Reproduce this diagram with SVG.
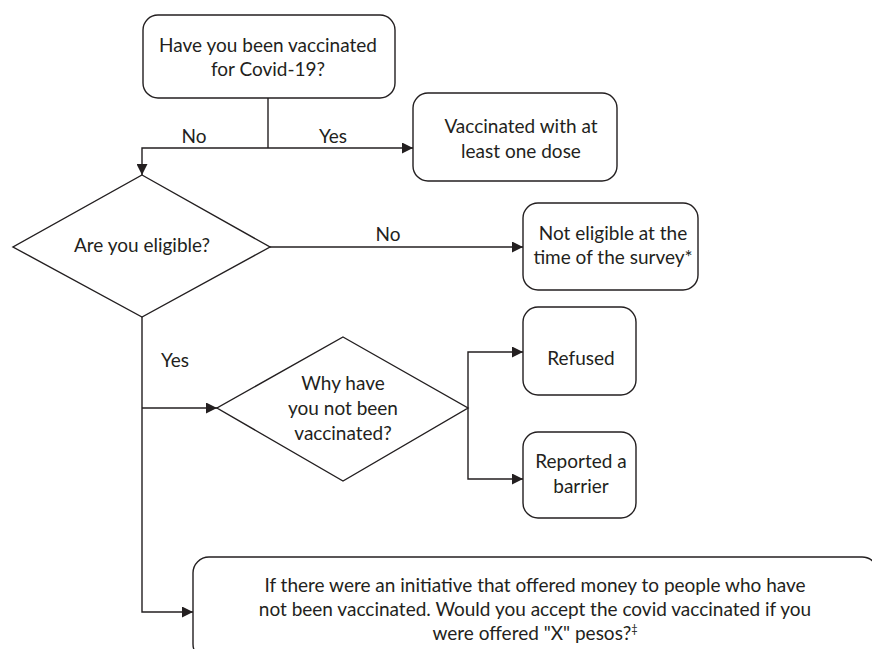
<svg xmlns="http://www.w3.org/2000/svg" width="872" height="649" viewBox="0 0 872 649">
<defs>
<style>
.box{fill:#fff;stroke:#231f20;stroke-width:1.4}
.t{font-family:Lato,"Liberation Sans",sans-serif;font-size:19px;fill:#231f20;text-anchor:middle}
.lbl{font-family:Lato,"Liberation Sans",sans-serif;font-size:19px;fill:#231f20;text-anchor:middle}
.c{fill:none;stroke:#231f20;stroke-width:1.4}
</style>
<marker id="ah" markerUnits="userSpaceOnUse" markerWidth="11" markerHeight="11" viewBox="0 0 11 11" refX="11" refY="5.5" orient="auto">
<path d="M0,0 L11,5.5 L0,11 Z" fill="#231f20"/>
</marker>
</defs>
<rect width="872" height="649" fill="#fff"/>
<g id="connectors">
<path class="c" d="M268,98 V148"/>
<path class="c" d="M268,148 H413" marker-end="url(#ah)"/>
<path class="c" d="M268,148 H142 V175" marker-end="url(#ah)"/>
<path class="c" d="M270,247 H523" marker-end="url(#ah)"/>
<path class="c" d="M142,317 V612 H193" marker-end="url(#ah)"/>
<path class="c" d="M142,408 H217" marker-end="url(#ah)"/>
<path class="c" d="M468,408 V352 H523" marker-end="url(#ah)"/>
<path class="c" d="M468,408 V479 H523" marker-end="url(#ah)"/>
<text class="lbl" x="194" y="143">No</text>
<text class="lbl" x="333" y="143">Yes</text>
<text class="lbl" x="388" y="241">No</text>
<text class="lbl" x="175" y="367">Yes</text>
</g>
<g id="q1">
<rect class="box" x="143" y="15" width="252" height="83" rx="15"/>
<text class="t" x="268" y="52">Have you been vaccinated</text>
<text class="t" x="268" y="76">for Covid-19?</text>
</g>
<g id="vaccinated">
<rect class="box" x="413" y="93" width="204" height="88" rx="15"/>
<text class="t" x="521" y="133">Vaccinated with at</text>
<text class="t" x="521" y="158">least one dose</text>
</g>
<g id="eligible">
<path class="box" d="M142,175 L270,247 L142,317 L13,247 Z"/>
<text class="t" x="142" y="252">Are you eligible?</text>
</g>
<g id="noteligible">
<rect class="box" x="523" y="203" width="175" height="87" rx="15"/>
<text class="t" x="613" y="240">Not eligible at the</text>
<text class="t" x="613" y="264">time of the survey*</text>
</g>
<g id="why">
<path class="box" d="M343,337 L468,408 L343,481 L217,408 Z"/>
<text class="t" x="343" y="390">Why have</text>
<text class="t" x="343" y="415">you not been</text>
<text class="t" x="343" y="440">vaccinated?</text>
</g>
<g id="refused">
<rect class="box" x="523" y="307" width="113" height="88" rx="15"/>
<text class="t" x="581" y="365">Refused</text>
</g>
<g id="barrier">
<rect class="box" x="523" y="432" width="113" height="86" rx="15"/>
<text class="t" x="581" y="468">Reported a</text>
<text class="t" x="581" y="493">barrier</text>
</g>
<g id="incentive">
<rect class="box" x="193" y="557" width="685" height="103" rx="16"/>
<text class="t" x="535" y="592">If there were an initiative that offered money to people who have</text>
<text class="t" x="535" y="616">not been vaccinated. Would you accept the covid vaccinated if you</text>
<text class="t" x="535" y="640">were offered "X" pesos?<tspan font-size="11" dy="-7">‡</tspan></text>
</g>
</svg>
